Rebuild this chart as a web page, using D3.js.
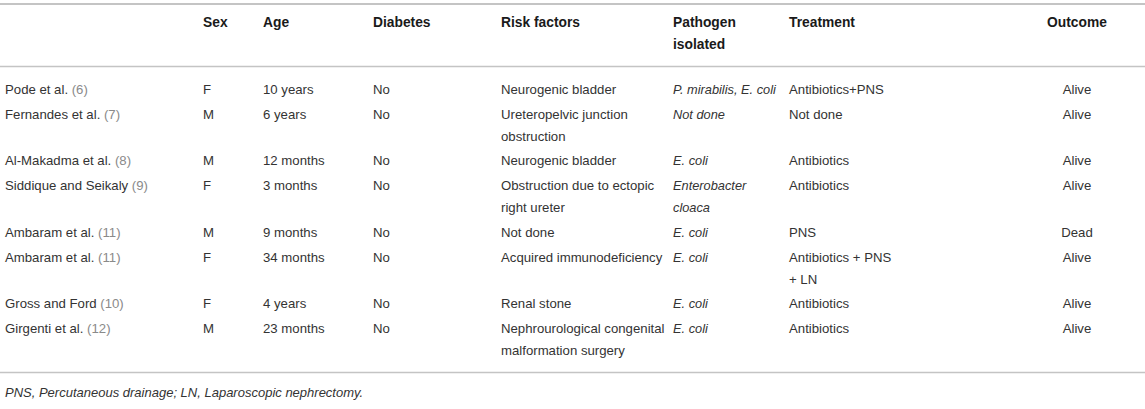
<!DOCTYPE html>
<html>
<head>
<meta charset="utf-8">
<script src="https://cdn.jsdelivr.net/npm/d3@7"></script>
<style>
  body { margin: 0; background: #fff; }
  text { font-family: "Liberation Sans", Helvetica, Arial, sans-serif; }
</style>
</head>
<body>
<div id="chart-area"></div>
<script>
// table content
const headers = ['', 'Sex', 'Age', 'Diabetes', 'Risk factors', 'Pathogen\nisolated', 'Treatment', 'Outcome'];
const authors = ['Pode et al.', 'Fernandes et al.', 'Al-Makadma et al.', 'Siddique and Seikaly',
  'Ambaram et al.', 'Ambaram et al.', 'Gross and Ford', 'Girgenti et al.'];
const refs = ['6', '7', '8', '9', '11', '11', '10', '12'];
const sex = ['F', 'M', 'M', 'F', 'M', 'F', 'F', 'M'];
const ages = ['10 years', '6 years', '12 months', '3 months', '9 months', '34 months', '4 years', '23 months'];
const diabetes = ['No', 'No', 'No', 'No', 'No', 'No', 'No', 'No'];
const riskFactors = ['Neurogenic bladder', 'Ureteropelvic junction\nobstruction', 'Neurogenic bladder',
  'Obstruction due to ectopic\nright ureter', 'Not done', 'Acquired immunodeficiency', 'Renal stone',
  'Nephrourological congenital\nmalformation surgery'];
const pathogens = ['P. mirabilis, E. coli', 'Not done', 'E. coli', 'Enterobacter\ncloaca',
  'E. coli', 'E. coli', 'E. coli', 'E. coli'];
const treatments = ['Antibiotics+PNS', 'Not done', 'Antibiotics', 'Antibiotics', 'PNS',
  'Antibiotics + PNS\n+ LN', 'Antibiotics', 'Antibiotics'];
const outcomes = ['Alive', 'Alive', 'Alive', 'Alive', 'Dead', 'Alive', 'Alive', 'Alive'];
const footnote = 'PNS, Percutaneous drainage; LN, Laparoscopic nephrectomy.';

const width = 1145;
const height = 409;
const fontSize = 13.2;
const lineH = 22;
const rowGap = 24.7;

const columns = ['author', 'sex', 'age', 'diabetes', 'risk', 'pathogen', 'treatment', 'outcome'];

const scaleX = d3.scaleOrdinal()
  .domain(columns)
  .range([5, 203, 263, 373, 501, 673, 789, 1077]);

const anchor = c => c === 'outcome' ? 'middle' : 'start';

const rows = authors.map((a, i) => ({
  author: a,
  ref: refs[i],
  sex: sex[i],
  age: ages[i],
  diabetes: diabetes[i],
  risk: riskFactors[i],
  pathogen: pathogens[i],
  treatment: treatments[i],
  outcome: outcomes[i],
}));

// first baseline of each row, from the number of lines in the row before it
let y = 94;
rows.forEach(r => {
  r.y = y;
  const n = d3.max(columns, c => c === 'author' ? 1 : r[c].split('\n').length);
  y += (n - 1) * lineH + rowGap;
});

const svg = d3.select('#chart-area').append('svg')
  .attr('width', width)
  .attr('height', height);

const rules = [
  { y: 4, w: 2 },
  { y: 66.5, w: 1.5 },
  { y: 372.5, w: 1.5 },
];
svg.selectAll('line.rule')
  .data(rules)
  .enter().append('line')
    .attr('class', 'rule')
    .attr('x1', 0)
    .attr('x2', width)
    .attr('y1', d => d.y)
    .attr('y2', d => d.y)
    .attr('stroke', '#c4c4c4')
    .attr('stroke-width', d => d.w);

const multiline = (sel, x, text) => {
  sel.selectAll('tspan')
    .data(text.split('\n'))
    .enter().append('tspan')
      .attr('x', x)
      .attr('dy', (t, j) => j === 0 ? 0 : lineH)
      .text(t => t);
};

// header
svg.append('g').selectAll('text')
  .data(columns.map((c, i) => ({ c, label: headers[i] })))
  .enter().append('text')
    .attr('x', d => scaleX(d.c))
    .attr('y', 27)
    .attr('text-anchor', d => anchor(d.c))
    .attr('font-size', 13.8)
    .attr('font-weight', 'bold')
    .attr('fill', '#1a1a1a')
    .each(function (d) { multiline(d3.select(this), scaleX(d.c), d.label); });

// body
const rowG = svg.append('g').selectAll('g.row')
  .data(rows)
  .enter().append('g')
    .attr('class', 'row')
    .attr('transform', d => `translate(0, ${d.y})`);

const authorText = rowG.append('text')
  .attr('x', scaleX('author'))
  .attr('font-size', fontSize)
  .attr('fill', '#333');
authorText.append('tspan').text(d => d.author + ' ');
authorText.append('tspan').attr('fill', '#8a8a8a').text(d => `(${d.ref})`);

columns.slice(1).forEach(c => {
  rowG.append('text')
    .attr('x', scaleX(c))
    .attr('text-anchor', anchor(c))
    .attr('font-size', c === 'pathogen' ? 12.8 : fontSize)
    .attr('font-style', c === 'pathogen' ? 'italic' : 'normal')
    .attr('fill', '#333')
    .each(function (d) { multiline(d3.select(this), scaleX(c), d[c]); });
});

svg.append('text')
  .attr('x', 5)
  .attr('y', 397)
  .attr('font-size', 13)
  .attr('font-style', 'italic')
  .attr('fill', '#333')
  .text(footnote);
</script>
</body>
</html>
